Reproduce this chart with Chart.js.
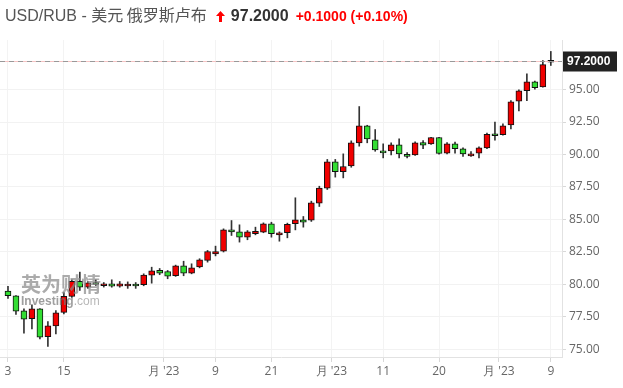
<!DOCTYPE html>
<html>
<head>
<meta charset="utf-8">
<script src="https://cdn.jsdelivr.net/npm/chart.js@4"></script>
<style>
    body { margin: 0; background: #fff; }
    #wrap { position: relative; width: 623px; height: 388px; overflow: hidden; }
    #chart { position: absolute; left: 0; top: 0; }
    .header {
        position: absolute; left: 5px; top: 5px; white-space: nowrap;
        font-family: "Liberation Sans", Arial, "Noto Sans CJK SC", sans-serif;
        font-size: 16px; line-height: 18px; color: #555;
    }
    .header .name { font-family: "Liberation Sans", Arial, sans-serif; }
    .header .cjk { font-family: "Noto Sans CJK SC", sans-serif; font-size: 16px; }
    .header .price { font-weight: bold; color: #333; margin-left: 6px; }
    .header .chg { font-weight: bold; color: #f00; font-size: 14px; margin-left: 7px; }
    .header svg { vertical-align: -1px; margin-left: 9px; }
    .wm { position: absolute; left: 21px; top: 273px; opacity: 0.7; pointer-events: none; }
    .wm .cn { font-family: "Noto Sans CJK SC", sans-serif; font-weight: bold; font-size: 20px; line-height: 22px; color: #888; letter-spacing: 0px; }
    .wm .en { font-family: "Liberation Sans", Arial, sans-serif; font-size: 12px; line-height: 13px; color: #999; }
    .wm .en b { color: #777; }
</style>
</head>
<body>
<div id="wrap">
    <canvas id="chart" width="623" height="388"></canvas>
    <div class="header">
        <span class="name">USD/RUB - </span><span class="cjk">美元 俄罗斯卢布</span><svg width="9" height="11" viewBox="0 0 9 11"><polygon points="4.5,0 9,5 6,5 6,11 3,11 3,5 0,5" fill="#f00"/></svg><span class="price">97.2000</span><span class="chg">+0.1000 (+0.10%)</span>
    </div>
    <div class="wm"><div class="cn">英为财情</div><div class="en"><b>Investing</b>.com</div></div>
</div>
<script>
// ──────────────────────────────────────────────
//  Data
// ──────────────────────────────────────────────
const OPENS = [
    79.49, 79.13, 77.98, 77.36, 78.13, 75.98, 76.82, 77.85, 79.08, 80.25,
    79.79, 80.15, 79.90, 80.05, 79.87, 79.88, 80.03, 79.98, 80.72, 81.08,
    81.00, 80.67, 81.44, 80.87, 81.36, 81.85, 82.36, 82.56, 84.21, 84.05,
    83.64, 83.90, 84.02, 84.67, 83.82, 83.98, 84.67, 84.97, 84.95, 86.25,
    87.41, 89.44, 88.67, 89.13, 90.90, 92.20, 91.12, 90.27, 90.28, 90.74,
    90.00, 89.97, 90.92, 90.82, 91.31, 90.10, 90.82, 90.44, 89.90, 90.10,
    90.51, 91.60, 91.52, 92.28, 94.10, 94.92, 95.60, 95.20, 97.10
];
const HIGHS = [
    79.85, 79.15, 78.13, 78.44, 78.15, 77.15, 78.00, 79.38, 80.36, 80.95,
    80.23, 80.36, 80.15, 80.36, 80.23, 80.20, 80.15, 80.82, 81.33, 81.23,
    81.08, 81.49, 81.79, 81.59, 81.98, 82.62, 82.95, 84.28, 84.92, 84.59,
    84.15, 84.41, 84.74, 84.79, 84.05, 84.72, 86.67, 85.23, 86.41, 87.56,
    89.62, 89.62, 90.05, 91.05, 93.69, 92.25, 91.92, 90.82, 90.90, 91.20,
    90.15, 90.97, 91.08, 91.33, 91.33, 90.92, 90.95, 90.51, 90.23, 90.59,
    91.64, 92.49, 92.36, 94.15, 94.97, 96.20, 95.64, 97.23, 97.93
];
const LOWS = [
    78.92, 77.69, 76.25, 76.59, 75.82, 75.23, 76.20, 77.74, 79.00, 79.54,
    79.70, 79.92, 79.80, 79.79, 79.79, 79.70, 79.70, 79.90, 80.10, 80.75,
    80.44, 80.62, 80.67, 80.82, 81.28, 81.72, 82.20, 82.50, 83.77, 83.26,
    83.44, 83.82, 83.98, 83.64, 83.33, 83.59, 84.20, 84.41, 84.85, 86.00,
    87.31, 88.26, 88.20, 89.02, 90.64, 90.90, 90.25, 89.74, 89.97, 89.74,
    89.74, 89.92, 90.44, 90.77, 90.02, 90.05, 90.10, 89.85, 89.85, 89.74,
    90.44, 91.10, 91.49, 91.97, 93.36, 94.15, 95.03, 95.18, 96.85
];
const CLOSES = [
    79.13, 77.95, 77.33, 78.13, 75.95, 76.82, 77.82, 79.08, 80.25, 79.79,
    80.13, 80.00, 80.05, 79.87, 80.05, 80.03, 79.88, 80.72, 81.05, 80.87,
    80.64, 81.44, 80.87, 81.28, 81.90, 82.54, 82.54, 84.21, 84.05, 83.64,
    84.05, 84.08, 84.67, 83.90, 83.98, 84.62, 84.97, 84.79, 86.28, 87.42,
    89.44, 88.67, 89.08, 90.90, 92.20, 91.20, 90.36, 90.12, 90.74, 90.05,
    89.85, 90.90, 90.72, 91.31, 90.08, 90.82, 90.44, 90.05, 90.05, 90.51,
    91.56, 91.44, 92.20, 94.05, 94.90, 95.60, 95.15, 96.92, 97.20
];

// x-axis ticks: position (candle index) and label
const X_TICK_POS = [0, 7, 19.5, 26, 33, 40.5, 47, 54, 61.5, 68];
const X_TICK_LABELS = ['3', '15', "月 '23", '9', '21', "月 '23", '11', '20', "月 '23", '9'];

// y-axis ticks
const Y_TICKS = [75, 77.5, 80, 82.5, 85, 87.5, 90, 92.5, 95];

const LAST_PRICE = 97.2;

const UP_COLOR = '#f00000';
const DOWN_COLOR = '#33dd33';
const AXIS_FONT = { family: '"Open Sans", "Liberation Sans", sans-serif', size: 12 };

// ──────────────────────────────────────────────
//  Build candle datasets
// ──────────────────────────────────────────────
const bodies = OPENS.map((o, i) => ({ x: i, y: [o, CLOSES[i]] }));
const wicks = LOWS.map((l, i) => ({ x: i, y: [l, HIGHS[i]] }));

// Last price line + dark label on the right axis
const lastPricePlugin = {
    id: 'lastPrice',
    afterDatasetsDraw(chart) {
        const { ctx, chartArea } = chart;
        const y = Math.round(chart.scales.y.getPixelForValue(LAST_PRICE)) + 0.5;
        ctx.save();
        ctx.strokeStyle = '#f6c4c4';
        ctx.lineWidth = 1;
        ctx.beginPath();
        ctx.moveTo(chartArea.left, y);
        ctx.lineTo(chartArea.right, y);
        ctx.stroke();
        ctx.strokeStyle = '#999';
        ctx.setLineDash([5, 4]);
        ctx.beginPath();
        ctx.moveTo(chartArea.left, y);
        ctx.lineTo(chartArea.right, y);
        ctx.stroke();
        ctx.setLineDash([]);

        ctx.fillStyle = '#222';
        ctx.fillRect(chartArea.right + 1, y - 10, 54, 20);
        ctx.fillStyle = '#fff';
        ctx.font = 'bold 12px "Liberation Sans", Arial, sans-serif';
        ctx.textBaseline = 'middle';
        ctx.textAlign = 'left';
        ctx.fillText(LAST_PRICE.toFixed(4), chartArea.right + 5, y + 0.5);
        ctx.restore();
    }
};

new Chart(document.getElementById('chart'), {
    type: 'bar',
    data: {
        datasets: [
            {
                // candle bodies, drawn on top
                data: bodies,
                grouped: false,
                barThickness: 6,
                minBarLength: 2,
                borderWidth: 1,
                borderColor: '#111',
                borderSkipped: false,
                backgroundColor: (c) => CLOSES[c.dataIndex] >= OPENS[c.dataIndex] ? UP_COLOR : DOWN_COLOR,
            },
            {
                // wicks
                data: wicks,
                grouped: false,
                barThickness: 1,
                backgroundColor: '#333',
                borderWidth: 0,
            }
        ]
    },
    options: {
        responsive: false,
        animation: false,
        layout: { padding: { top: 40, left: 0, right: 0, bottom: 0 } },
        plugins: { legend: { display: false }, tooltip: { enabled: false } },
        scales: {
            x: {
                type: 'linear',
                min: -1,
                max: 69.4,
                offset: false,
                grid: { color: '#f3f3f3', tickColor: '#d8d8d8', tickLength: 5, offset: false },
                border: { color: '#e2e2e2' },
                ticks: {
                    autoSkip: false,
                    maxRotation: 0,
                    padding: 2,
                    color: '#666',
                    font: AXIS_FONT,
                    callback: (v, i) => X_TICK_LABELS[i]
                },
                afterBuildTicks: (scale) => {
                    scale.ticks = X_TICK_POS.map(v => ({ value: v }));
                },
                afterFit: (scale) => { scale.height = 31; }
            },
            y: {
                position: 'right',
                min: 74.42,
                max: 98.81,
                grid: { color: '#f2f2f2', tickColor: '#d8d8d8', tickLength: 4 },
                border: { color: '#e2e2e2' },
                ticks: {
                    padding: 3,
                    color: '#666',
                    font: AXIS_FONT,
                    callback: (v) => v.toFixed(2)
                },
                afterBuildTicks: (scale) => {
                    scale.ticks = Y_TICKS.map(v => ({ value: v }));
                },
                afterFit: (scale) => { scale.width = 61; }
            }
        }
    },
    plugins: [lastPricePlugin]
});
</script>
</body>
</html>
